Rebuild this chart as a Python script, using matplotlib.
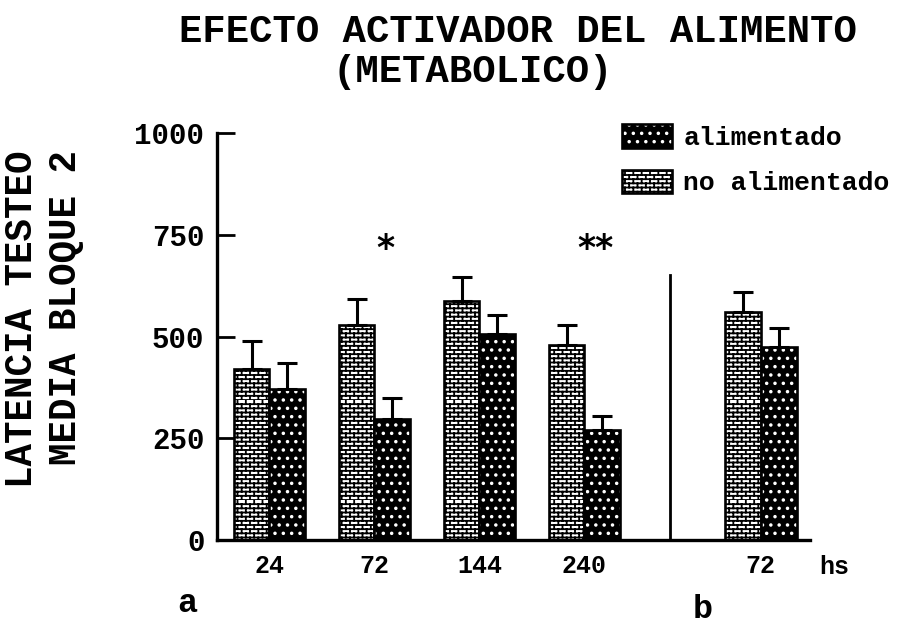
import warnings
import numpy as np
import matplotlib
matplotlib.use("Agg")
import matplotlib.pyplot as plt
import matplotlib.hatch as mhatch
from matplotlib.path import Path
from matplotlib.legend_handler import HandlerTuple

# ---- data -------------------------------------------------------------
time_labels = ["24", "72", "144", "240", "72"]
no_alimentado = [419, 529, 586, 478, 561]
no_alimentado_err = [69, 64, 61, 51, 49]
alimentado = [370, 297, 505, 270, 473]
alimentado_err = [64, 51, 49, 34, 49]
significance = ["", "*", "", "**", ""]
y_ticks = [0, 250, 500, 750, 1000]


# ---- brick hatch ("b") ------------------------------------------------
class BrickHatch(mhatch.HatchPatternBase):
    def __init__(self, hatch, density):
        self.rows = int(hatch.count("b") * density)
        self.cols = self.rows // 2
        if self.rows == 0:
            self.num_vertices = 0
        else:
            self.num_vertices = 2 * (self.rows + self.rows * self.cols)

    def set_vertices_and_codes(self, vertices, codes):
        r, c = self.rows, self.cols
        i = 0
        for k in range(r):
            y = k / r
            vertices[i] = (0.0, y)
            vertices[i + 1] = (1.0, y)
            codes[i] = Path.MOVETO
            codes[i + 1] = Path.LINETO
            i += 2
            shift = 0.5 * (k % 2)
            for j in range(c):
                x = (j + shift) / c
                vertices[i] = (x, y)
                vertices[i + 1] = (x, y + 1.0 / r)
                codes[i] = Path.MOVETO
                codes[i + 1] = Path.LINETO
                i += 2


mhatch._hatch_types.append(BrickHatch)
warnings.filterwarnings("ignore", message=".*hatch must consist.*")

plt.rcParams["hatch.linewidth"] = 1.3
MONO = "Liberation Mono"

fig = plt.figure(figsize=(9.12, 6.23), dpi=100)
ax = fig.add_axes([217 / 912, 83 / 623, 593 / 912, 407 / 623])

pos = np.array([0, 1, 2, 3, 4.68])
w = 0.34
lw = 1.9

# no alimentado: brick bars (left of each pair)
brick = ax.bar(pos - w / 2, no_alimentado, width=w, facecolor="white",
               edgecolor="black", hatch="bbbb", linewidth=lw, zorder=2)
# alimentado: black bars with white dots (right of each pair)
dots = ax.bar(pos + w / 2, alimentado, width=w, facecolor="black",
              edgecolor="white", hatch="..", linewidth=0, zorder=2)
dots_edge = ax.bar(pos + w / 2, alimentado, width=w, facecolor="none",
                   edgecolor="black", linewidth=lw, zorder=3)

zeros = np.zeros(len(pos))
ax.errorbar(pos - w / 2, no_alimentado, yerr=[zeros, no_alimentado_err],
            fmt="none", ecolor="black", elinewidth=2.2, capsize=7,
            capthick=2.2, zorder=4)
ax.errorbar(pos + w / 2, alimentado, yerr=[zeros, alimentado_err],
            fmt="none", ecolor="black", elinewidth=2.2, capsize=7,
            capthick=2.2, zorder=4)

# significance marks
for p, s in zip(pos, significance):
    if s:
        ax.text(p + 0.1, 716, s, ha="center", va="center", fontsize=25,
                family="DejaVu Sans", fontweight="bold")

# separator between panel a and b
ax.plot([3.81, 3.81], [0, 650], color="black", linewidth=2, zorder=1)

ax.set_xlim(-0.5, 5.148)
ax.set_ylim(0, 1000)
ax.set_yticks(y_ticks)
ax.set_yticklabels([str(v) for v in y_ticks], family=MONO, fontsize=21,
                   fontweight="bold")
ax.set_xticks(pos)
ax.set_xticklabels(time_labels, family=MONO, fontsize=18, fontweight="bold")
ax.tick_params(axis="y", direction="in", length=13, width=2, pad=9)
ax.tick_params(axis="x", length=0, pad=10)
for side in ("top", "right"):
    ax.spines[side].set_visible(False)
for side in ("left", "bottom"):
    ax.spines[side].set_linewidth(2.4)

fig.text(834 / 912, 1 - 567 / 623, "hs", ha="center", va="center",
         family=MONO, fontsize=18, fontweight="bold")

# titles
fig.text(518 / 912, 1 - 32 / 623, "EFECTO ACTIVADOR DEL ALIMENTO",
         ha="center", va="center", family=MONO, fontsize=28,
         fontweight="bold")
fig.text(473 / 912, 1 - 72 / 623, "(METABOLICO)", ha="center", va="center",
         family=MONO, fontsize=28, fontweight="bold")

# y-axis labels
fig.text(22 / 912, 1 - 150 / 623, "LATENCIA TESTEO", rotation=90,
         ha="center", va="top", family=MONO, fontsize=27, fontweight="bold")
fig.text(66 / 912, 1 - 150 / 623, "MEDIA BLOQUE 2", rotation=90,
         ha="center", va="top", family=MONO, fontsize=27, fontweight="bold")

# panel letters
fig.text(187 / 912, 1 - 603 / 623, "a", ha="center", va="center",
         family=MONO, fontsize=24, fontweight="bold")
fig.text(703 / 912, 1 - 609 / 623, "b", ha="center", va="center",
         family=MONO, fontsize=24, fontweight="bold")

leg = ax.legend(handles=[(dots[0], dots_edge[0]), brick[0]],
                labels=["alimentado", "no alimentado"],
                handler_map={tuple: HandlerTuple(ndivide=1)},
                loc="upper left", bbox_to_anchor=(622 / 912, 1 - 124 / 623),
                bbox_transform=fig.transFigure, frameon=False, borderpad=0,
                borderaxespad=0, handlelength=1.9, handleheight=1.0,
                handletextpad=0.42, labelspacing=0.75,
                prop={"family": MONO, "size": 19, "weight": "bold"})

fig.savefig("out.png", dpi=100)
